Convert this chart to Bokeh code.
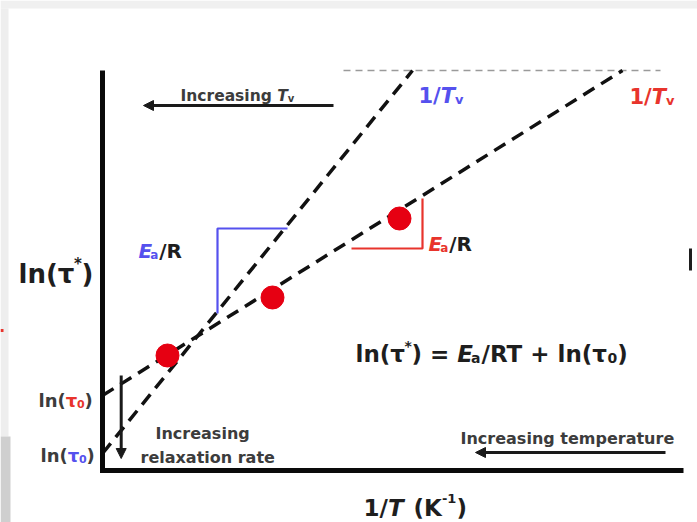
from bokeh.plotting import figure
from bokeh.models import Range1d, Arrow, NormalHead, ColumnDataSource
from bokeh.core.properties import value
from bokeh.embed import file_html
from bokeh.resources import INLINE

# ---- schematic data (arbitrary units: x ~ 1/T, y ~ ln(tau*)) ----
axis_x = [0, 0, 581]
axis_y = [400, 0, 0]
blue_line_x = [0, 310]
blue_line_y = [17, 400]
red_line_x = [0, 520]
red_line_y = [75, 400]
tv_line_x = [241, 558]
tv_line_y = [400, 400]
points_x = [65, 170, 297]
points_y = [115, 173, 252]
blue_bracket_x = [115, 115, 185]
blue_bracket_y = [157, 242, 242]
red_bracket_x = [249, 320, 320]
red_bracket_y = [222, 222, 272]
arrow_x_start = [231, 563, 18.7]
arrow_y_start = [365, 18, 95]
arrow_x_end = [41, 373, 18.7]
arrow_y_end = [365, 18, 12]

# page decoration (screenshot frame and clipped edge marks)
frame_left = [-102, -102, -102]
frame_right = [595, -94, -92]
frame_bottom = [462, 34, -52]
frame_top = [470, 462, 34]
frame_colors = ["#f0f0f0", "#eeeeee", "#cfcfcf"]
edge_mark_x = [[588, 588], [-102, -99]]
edge_mark_y = [[200, 222], [140, 140]]
edge_mark_colors = ["#1e1e1e", "#e8342c"]

BLUE = "#5551ee"
RED = "#e8342c"
DOT = "#e60012"
INK = "#1e1e1e"
GREY = "#3c3c3c"

# DejaVu Sans Bold advance widths (per 1000 em)
W = {" ": 348, "(": 457, ")": 457, "*": 500, "+": 838, "/": 365, "0": 696, "1": 696,
     "=": 838, "E": 683, "I": 372, "K": 775, "R": 770, "T": 682, "a": 675, "c": 593,
     "e": 678, "g": 716, "i": 343, "l": 343, "m": 1042, "n": 712, "o": 687, "p": 716,
     "r": 493, "s": 595, "t": 478, "u": 712, "v": 650, "x": 631, "-": 416, "τ": 620}

B, BI = "bold", "bold italic"
# each label: anchor (x, y) and pieces (text, size, style, color, dy, dx)
labels = [
    ((78, 375), [("Increasing ", 15.5, B, GREY, 0, 0), ("T", 15.5, BI, GREY, 0, 0), ("v", 10, B, GREY, -3, 0)]),
    ((316, 375), [("1/", 21, B, BLUE, 0, 0), ("T", 21, BI, BLUE, 0, 0), ("v", 13, B, BLUE, -4, 0)]),
    ((527, 374), [("1/", 21, B, RED, 0, 0), ("T", 21, BI, RED, 0, 0), ("v", 13, B, RED, -4, 0)]),
    ((36, 220), [("E", 20, BI, BLUE, 0, 0), ("a", 12, B, BLUE, -4, -2), ("/R", 20, B, INK, 0, 1)]),
    ((326, 227), [("E", 20, BI, RED, 0, 0), ("a", 12, B, RED, -4, -2), ("/R", 20, B, INK, 0, 1)]),
    ((253, 117), [("ln(τ", 23, B, INK, 0, 0), ("*", 14, B, INK, 8, 0), (") = ", 23, B, INK, 0, 0),
                  ("E", 23, BI, INK, 0, 0), ("a", 14, B, INK, -4, -2), ("/RT + ln(τ", 23, B, INK, 0, 1),
                  ("0", 14, B, INK, -4, 0), (")", 23, B, INK, 0, 0)]),
    ((-84, 197), [("ln(τ", 26, B, INK, 0, 0), ("*", 15, B, INK, 10, 0), (")", 26, B, INK, 0, 0)]),
    ((-64, 70), [("ln(", 18, B, GREY, 0, 0), ("τ", 18, B, RED, 0, 0), ("0", 11, B, RED, -3, 0), (")", 18, B, GREY, 0, 0)]),
    ((-62, 15), [("ln(", 18, B, GREY, 0, 0), ("τ", 18, B, BLUE, 0, 0), ("0", 11, B, BLUE, -3, 0), (")", 18, B, GREY, 0, 0)]),
    ((53, 37), [("Increasing", 16, B, GREY, 0, 0)]),
    ((38, 13), [("relaxation rate", 16, B, GREY, 0, 0)]),
    ((358, 32), [("Increasing temperature", 16, B, GREY, 0, 0)]),
    ((261, -37), [("1/", 23, B, INK, 0, 0), ("T", 23, BI, INK, 0, 0), ("(K", 23, B, INK, 0, 10),
                  ("-1", 13, B, INK, 9, 0), (")", 23, B, INK, 0, 0)]),
]

tx, ty, tt, ts, tst, tc = [], [], [], [], [], []
for (ax, ay), pieces in labels:
    cx = ax
    for text, size, style, color, dy, dx in pieces:
        cx += dx
        tx.append(cx)
        ty.append(ay + dy)
        tt.append(text)
        ts.append(f"{size}px")
        tst.append(style)
        tc.append(color)
        cx += sum(W.get(ch, 600) for ch in text) * size / 1000.0

p = figure(width=697, height=522, output_backend="svg", toolbar_location=None,
           x_range=Range1d(-102, 595), y_range=Range1d(-52, 470),
           min_border=0, outline_line_color=None, background_fill_color="white",
           border_fill_color="white")
p.axis.visible = False
p.grid.visible = False

p.quad(left=frame_left, right=frame_right, bottom=frame_bottom, top=frame_top,
       fill_color=frame_colors, line_color=None)
p.multi_line(edge_mark_x, edge_mark_y, line_color=edge_mark_colors, line_width=3)

# reference dashed line at 1/Tv
p.line(tv_line_x, tv_line_y, line_color="#9a9a9a", line_width=1.5, line_dash="7 5")
# Arrhenius lines
p.line(blue_line_x, blue_line_y, line_color="#111111", line_width=3.5, line_dash="13 8")
p.line(red_line_x, red_line_y, line_color="#111111", line_width=3.5, line_dash="13 8")
# slope brackets
p.line(blue_bracket_x, blue_bracket_y, line_color=BLUE, line_width=2.2)
p.line(red_bracket_x, red_bracket_y, line_color=RED, line_width=2.2)
# data points
p.scatter(points_x, points_y, size=23, fill_color=DOT, line_color=DOT)
# axes
p.line(axis_x, axis_y, line_color="#0a0a0a", line_width=5, line_join="miter")

arrows = ColumnDataSource(dict(x0=arrow_x_start, y0=arrow_y_start, x1=arrow_x_end, y1=arrow_y_end))
p.add_layout(Arrow(source=arrows, x_start="x0", y_start="y0", x_end="x1", y_end="y1",
                   line_width=3, line_color="#1a1a1a",
                   end=NormalHead(size=10, fill_color="#1a1a1a", line_color="#1a1a1a")))

src = ColumnDataSource(dict(x=tx, y=ty, text=tt, size=ts, style=tst, color=tc))
p.text(x="x", y="y", text="text", source=src, text_font=value("DejaVu Sans"),
       text_font_size="size", text_font_style="style", text_color="color",
       text_baseline="alphabetic", text_align="left")

open("out.html", "w").write(file_html(p, INLINE))
